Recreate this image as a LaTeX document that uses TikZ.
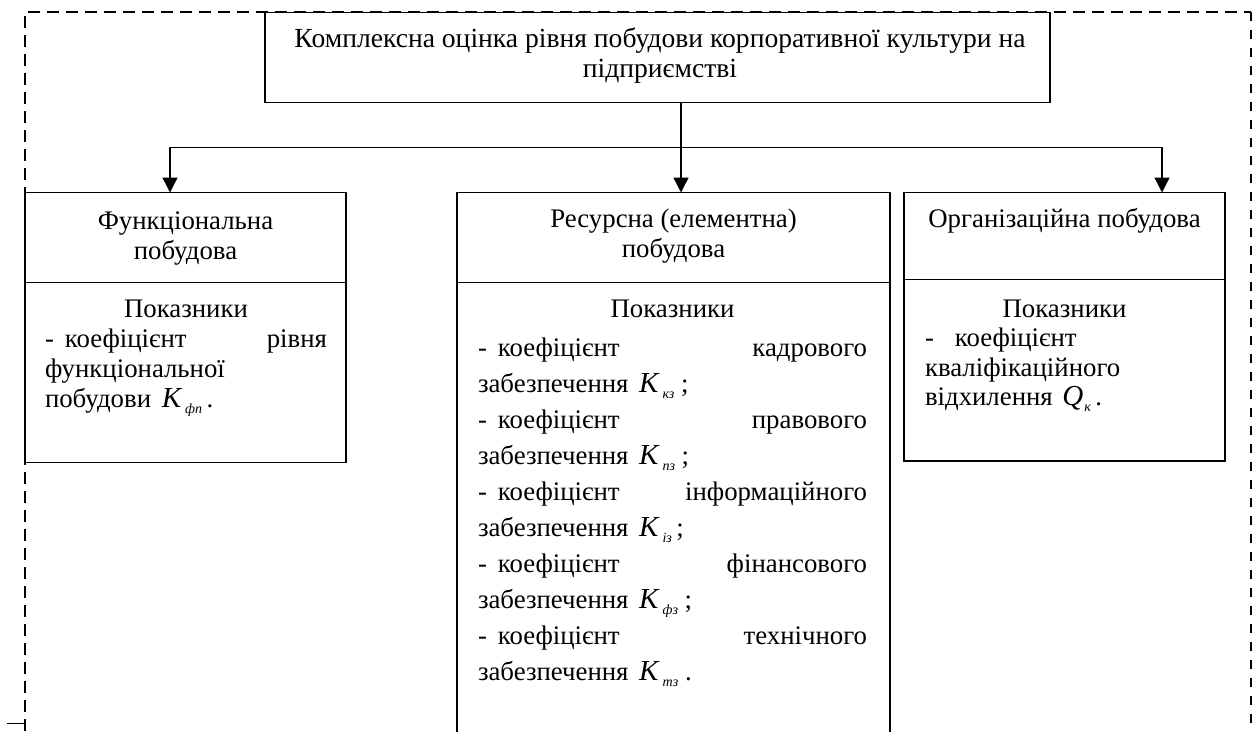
\documentclass[tikz,border=0pt]{standalone}
\usepackage{fontspec}
\setmainfont{Liberation Serif}
\usetikzlibrary{arrows.meta}
\newcommand{\Kc}[1]{\hspace{4pt}{\fontsize{29}{29}\selectfont\itshape K}\kern4pt\raisebox{-6pt}{\fontsize{14}{14}\selectfont\itshape #1}}
\newcommand{\Qc}[1]{\hspace{3pt}{\fontsize{29}{29}\selectfont\itshape Q}\kern1pt\raisebox{-6pt}{\fontsize{14}{14}\selectfont\itshape #1}}
\newcommand{\bodyfont}[1]{\fontsize{26.8}{#1}\selectfont}
\begin{document}
\begin{tikzpicture}[x=1pt,y=-1pt,
  boxst/.style={draw, line width=1.3pt, inner sep=0pt, outer sep=0pt, anchor=north west},
  hdr/.style={inner sep=0pt, outer sep=0pt, anchor=base},
  txt/.style={inner sep=0pt, outer sep=0pt, anchor=base west},
  arr/.style={line width=1.3pt, -{Triangle[width=15pt,length=15pt]}},
  conn/.style={line width=1.3pt},
  dashframe/.style={line width=2pt, dash pattern=on 12pt off 7pt}]
\useasboundingbox (0,0) rectangle (1253,731);
% dashed frame
\draw[dashframe] (25,731) -- (25,12.3) -- (1250.8,12.3);
\draw[dashframe, line width=2.6pt, dash pattern=on 9pt off 9pt] (1250.8,12.3) -- (1250.8,731);
\draw[conn] (7,723.5) -- (25,723.5) -- (25,731);
% top box
\node[boxst, minimum width=785pt, minimum height=90.4pt] (top) at (265,12.3) {};
\node[hdr] (toptxt) at (660,47) {\parbox[t]{785pt}{\centering\fontsize{27.6}{30}\selectfont Комплексна оцінка рівня побудови корпоративної культури на\\ підприємстві}};
% left
\node[boxst, minimum width=321pt, minimum height=90pt] (lh) at (25,192.5) {};
\node[boxst, minimum width=321pt, minimum height=180pt] (lb) at (25,282.5) {};
\node[hdr] (lht) at (185.5,229) {\parbox[t]{300pt}{\centering\bodyfont{30} Функціональна\\ побудова}};
\node[txt] (lbt) at (45,317) {\parbox[t]{282pt}{\bodyfont{30}
\hfill Показники\hfill\null\\
-\hspace{11pt}коефіцієнт\hfill рівня\\
функціональної\\
побудови \Kc{фп}\,.}};
% middle
\node[boxst, minimum width=433pt, minimum height=90pt] (mh) at (457,192.5) {};
\node[boxst, minimum width=433pt, minimum height=460pt] (mb) at (457,282.5) {};
\node[hdr] (mht) at (673.5,227) {\parbox[t]{400pt}{\centering\bodyfont{30} Ресурсна (елементна)\\ побудова}};
\node[txt] (mbt) at (478,317) {\parbox[t]{389pt}{\bodyfont{36}
\hfill Показники\hfill\null\\[3pt]
-\hspace{11pt}коефіцієнт\hfill кадрового\\
забезпечення \Kc{кз}\ ;\\
-\hspace{11pt}коефіцієнт\hfill правового\\
забезпечення \Kc{пз}\ ;\\
-\hspace{11pt}коефіцієнт\hfill інформаційного\\
забезпечення \Kc{із}\,;\\
-\hspace{11pt}коефіцієнт\hfill фінансового\\
забезпечення \Kc{фз}\ ;\\
-\hspace{11pt}коефіцієнт\hfill технічного\\
забезпечення \Kc{тз}\ .}};
% right
\node[boxst, minimum width=321pt, minimum height=87pt] (rh) at (904,192.5) {};
\node[boxst, minimum width=321pt, minimum height=181.5pt] (rb) at (904,279.5) {};
\node[hdr] (rht) at (1064.5,227) {\parbox[t]{315pt}{\centering\bodyfont{30} Організаційна побудова}};
\node[txt] (rbt) at (925,317) {\parbox[t]{279pt}{\bodyfont{29.5}
\hfill Показники\hfill\null\\
-\hspace{21pt}коефіцієнт\\
кваліфікаційного\\
відхилення \Qc{к}\,.}};
% connectors
\coordinate (jM) at (681,147.7);
\coordinate (jL) at (170,147.7);
\coordinate (jR) at (1162,147.7);
\draw[conn] (top.south -| jM) -- (jM);
\draw[arr] (jM) -- (mh.north -| jM);
\draw[arr] (jM) -- (jL) -- (lh.north -| jL);
\draw[arr] (jM) -- (jR) -- (rh.north -| jR);
\end{tikzpicture}
\end{document}
